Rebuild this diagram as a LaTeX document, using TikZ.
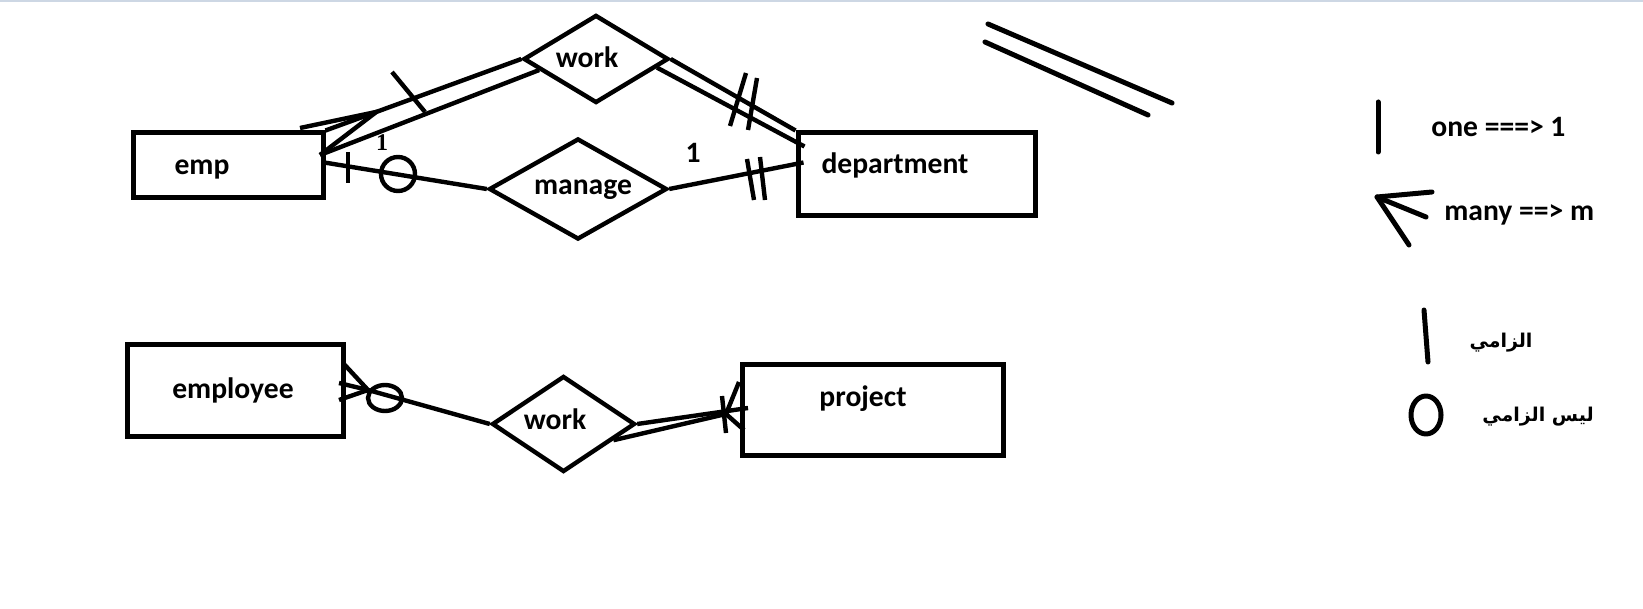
\documentclass[tikz,border=0pt]{standalone}
\usepackage{fontspec}
\setmainfont{Carlito}
\newfontfamily\arabicfont[Script=Arabic]{DejaVu Sans}
\newfontfamily\serifone{Liberation Serif}
\TeXXeTstate=1
\usetikzlibrary{shapes.geometric,calc}

\definecolor{frameblue}{RGB}{205,215,228}

\tikzset{
  entity/.style={draw, rectangle, line width=2.5pt, inner sep=0pt},
  relation/.style={draw, diamond, line width=2.2pt, inner sep=0pt},
  lbl/.style={font=\fontsize{14.8}{17}\selectfont\bfseries, inner sep=0pt},
  legtext/.style={font=\fontsize{14.8}{17}\selectfont\bfseries, inner sep=0pt, anchor=west},
  artext/.style={font=\arabicfont\fontsize{9.5}{12}\selectfont\bfseries, inner sep=0pt},
  link/.style={line width=2.2pt},
  penline/.style={line width=2.5pt, line cap=round, line join=round},
}

\begin{document}
\begin{tikzpicture}[x=0.5pt,y=-0.5pt]
  \fill[white] (0,0) rectangle (1643,609);
  \useasboundingbox (0,0) rectangle (1643,609);
  \draw[frameblue, line width=1pt] (0,1)--(1643,1); % top edge

  % entities
  \node[entity, minimum width=95pt, minimum height=32.5pt] (emp) at (228,165.5) {};
  \node[lbl] (emptxt) at (202,170) {emp};
  \node[entity, minimum width=118.5pt, minimum height=41.5pt] (dept) at (916.5,174.5) {};
  \node[lbl] (depttxt) at (895,165) {department};
  \node[entity, minimum width=108pt, minimum height=46pt] (employee) at (235,390) {};
  \node[lbl] (employeetxt) at (233,390) {employee};
  \node[entity, minimum width=130.5pt, minimum height=45.5pt] (project) at (872.5,409.5) {};
  \node[lbl] (projecttxt) at (863,399) {project};

  % relations
  \node[relation, minimum width=72.5pt, minimum height=44pt] (worktop) at (596,59) {};
  \node[lbl] (worktoptxt) at (587,57) {work};
  \node[relation, minimum width=89pt, minimum height=50.5pt] (manage) at (578,189) {};
  \node[lbl] (managetxt) at (583,190) {manage};
  \node[relation, minimum width=71.5pt, minimum height=48pt] (workbot) at (563.5,424) {};
  \node[lbl] (workbottxt) at (555,419) {work};

  % emp -- work
  \coordinate (empfoot) at ($(emp.north east)!0.26!(worktop.west)$);
  \draw[link] (emp.north east) -- (worktop.west);
  \draw[link] (320,155) -- (worktop.191);
  \draw[link] (300,128) -- (empfoot) -- (320,155); % many
  \draw[link] (392,72) -- (425,112); % one

  % work -- department
  \draw[link] (worktop.east) -- (dept.north west);
  \draw[link] (worktop.352) -- ($(dept.north west)+(9,16)$);
  \draw[link] (746,73) -- (730,126);
  \draw[link] (757,78) -- (748,130);

  % emp -- manage
  \draw[link] ($(emp.north east)!0.46!(emp.south east)$) -- (manage.west);
  \draw[link] (348,152) -- (348,183);
  \draw[link] (398,174) circle[radius=8.5pt];
  \node[font=\serifone\fontsize{12}{13}\selectfont\bfseries, inner sep=0pt] (oneemp) at (382,143) {1};

  % manage -- department
  \draw[link] (manage.east) -- ($(dept.west)+(8,-12)$);
  \draw[link] (747,159) -- (754,200);
  \draw[link] (760,157) -- (765,200);
  \node[lbl] (onedept) at (693,153) {1};

  % employee -- work
  \coordinate (employeefoot) at (368,390);
  \draw[link] (employeefoot) -- (workbot.west);
  \draw[link] (343,363) -- (employeefoot) -- (339,400);
  \draw[link] (339,383) -- (employeefoot);
  \draw[link] (385,398) ellipse[x radius=8.5pt, y radius=6.5pt];

  % work -- project
  \coordinate (projectfoot) at (726,414);
  \draw[link] (workbot.east) -- ($(project.west)+(8.5,-1.5)$);
  \draw[link] (workbot.342) -- (projectfoot);
  \draw[link] (739,382) -- (projectfoot) -- (744,430);
  \draw[link] (722,396) -- (726,433);

  % double stroke
  \draw[penline] (988,24) -- (1172,103);
  \draw[penline] (985,42) -- (1148,115);

  % legend
  \draw[penline] (1378,102) -- (1378,152);
  \node[legtext] (one) at (1431,127) {one ===> 1};
  \coordinate (legfoot) at (1377,197);
  \draw[penline] (1432,192) -- (legfoot) -- (1409,245);
  \draw[penline] (1426,217) -- (legfoot);
  \node[legtext] (many) at (1444,215) {many ==> m};
  \draw[penline] (1424,310) -- (1428,362);
  \node[artext] (must) at (1501,343) {\beginR الزامي\endR};
  \draw[penline] (1426,415) ellipse[x radius=7.5pt, y radius=9.5pt];
  \node[artext] (notmust) at (1538,417) {\beginR ليس الزامي\endR};
\end{tikzpicture}
\end{document}
